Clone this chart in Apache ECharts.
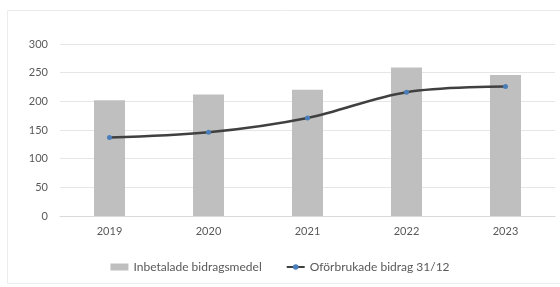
<!DOCTYPE html>
<html>
<head>
<meta charset="utf-8">
<script src="https://cdn.jsdelivr.net/npm/echarts@6/dist/echarts.min.js"></script>
<style>
  html, body { margin: 0; padding: 0; background: #fff; }
  #chart { width: 560px; height: 287px; }
</style>
</head>
<body>
<div id="chart"></div>
<script>
const years = ["2019", "2020", "2021", "2022", "2023"];
const inbetalade = [202, 212, 220, 259, 246];
const oforbrukade = [137, 146, 171, 216, 226];

const chart = echarts.init(document.getElementById("chart"));
chart.setOption({
  animation: false,
  textStyle: { fontFamily: "Lato, 'Open Sans', sans-serif" },
  graphic: [
    {
      type: "rect",
      shape: { x: 7.5, y: 10.5, width: 560, height: 273 },
      style: { fill: "none", stroke: "#ececec", lineWidth: 1 },
      silent: true
    }
  ],
  grid: { left: 60, right: 5, top: 44, bottom: 71 },
  legend: {
    bottom: 9,
    left: "center",
    itemGap: 24,
    itemWidth: 18,
    itemHeight: 7,
    textStyle: { color: "#595959", fontSize: 12 },
    data: [
      { name: "Inbetalade bidragsmedel", icon: "rect" },
      { name: "Oförbrukade bidrag 31/12" }
    ]
  },
  xAxis: {
    type: "category",
    data: years,
    axisLine: { lineStyle: { color: "#d9d9d9" } },
    axisTick: { show: false },
    axisLabel: { color: "#595959", fontSize: 11, margin: 10 }
  },
  yAxis: {
    type: "value",
    min: 0,
    max: 300,
    interval: 50,
    axisLine: { show: false },
    axisTick: { show: false },
    axisLabel: { color: "#595959", fontSize: 11, margin: 12 },
    splitLine: { lineStyle: { color: "#e6e6e6" } }
  },
  series: [
    {
      name: "Inbetalade bidragsmedel",
      type: "bar",
      data: inbetalade,
      barWidth: 31,
      itemStyle: { color: "#bfbfbf" }
    },
    {
      name: "Oförbrukade bidrag 31/12",
      type: "line",
      data: oforbrukade,
      smooth: 0.35,
      symbol: "circle",
      symbolSize: 5,
      lineStyle: { color: "#404040", width: 2.5 },
      itemStyle: { color: "#4a7ebb" }
    }
  ]
});
</script>
</body>
</html>
